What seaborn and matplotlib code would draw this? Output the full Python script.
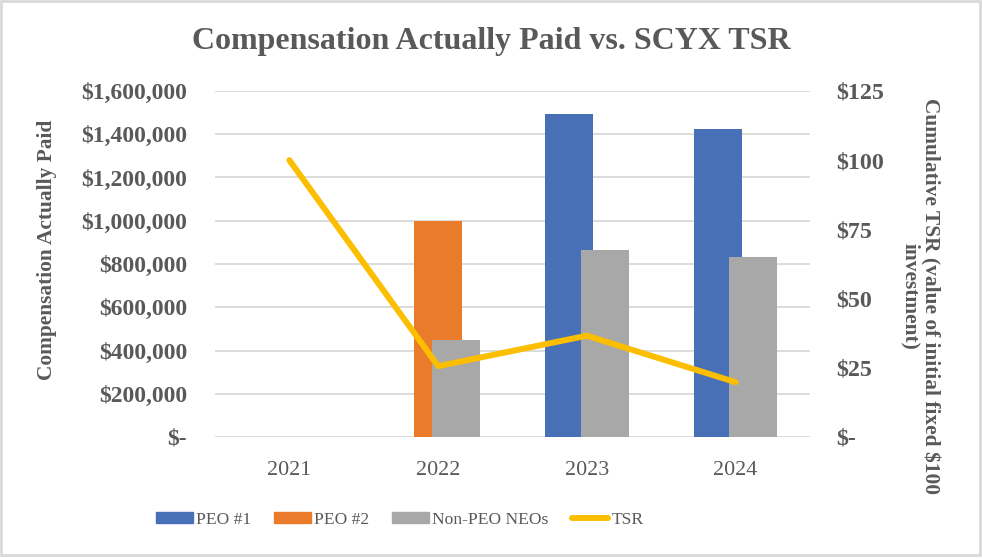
import numpy as np
import pandas as pd
import matplotlib
matplotlib.use("Agg")
import matplotlib.pyplot as plt
from matplotlib.patches import Patch, Rectangle
from matplotlib.lines import Line2D
from matplotlib.ticker import FuncFormatter
import seaborn as sns

# -------------------------------
# Data
# -------------------------------
years = ["2021", "2022", "2023", "2024"]
peo1 = [np.nan, np.nan, 1495000, 1425000]
peo2 = [np.nan, 1000000, np.nan, np.nan]
non_peo = [np.nan, 450000, 865000, 832000]
tsr = [100, 25.6, 36.6, 19.8]

series_names = ["PEO #1", "PEO #2", "Non-PEO NEOs"]

# -------------------------------
# Style
# -------------------------------
sns.set_theme(style="white")
plt.rcParams["font.family"] = ["Liberation Serif", "DejaVu Serif"]

TEXT = "#595959"
GRID = "#D9D9D9"
colors = {"PEO #1": "#4770B6", "PEO #2": "#E97B2B", "Non-PEO NEOs": "#A9A8A9"}
TSR_COLOR = "#FBBE00"

# bar offsets inside each year slot (Excel overlap layout)
offsets = {"PEO #1": -0.12, "PEO #2": 0.0, "Non-PEO NEOs": 0.12}
BAR_W = 0.323

df = pd.DataFrame({"year": years, "PEO #1": peo1, "PEO #2": peo2,
                   "Non-PEO NEOs": non_peo, "TSR": tsr})
df["idx"] = np.arange(len(df))

fig = plt.figure(figsize=(9.82, 5.58), dpi=100)
ax = fig.add_axes([215 / 982, 1 - 437 / 558, 595 / 982, 346 / 558])

# draw order: orange, blue, then gray on top
for name in ["PEO #2", "PEO #1", "Non-PEO NEOs"]:
    sub = df[["idx", name]].dropna()
    sns.barplot(x=sub["idx"] + offsets[name], y=sub[name], ax=ax,
                native_scale=True, color=colors[name], saturation=1,
                width=BAR_W, errorbar=None, linewidth=0, edgecolor="none")

ax.set_xlim(-0.5, 3.5)
ax.set_ylim(0, 1600000)
ax.set_yticks(np.arange(0, 1600001, 200000))
ax.yaxis.set_major_formatter(FuncFormatter(lambda v, p: "$-" if v == 0 else f"${v:,.0f}"))
ax.set_xticks(df["idx"])
ax.set_xticklabels(years)
ax.set_xlabel("")
ax.set_ylabel("")
ax.set_axisbelow(True)
ax.yaxis.grid(True, color=GRID, lw=1.3)
ax.xaxis.grid(False)
for s in ax.spines.values():
    s.set_visible(False)
ax.tick_params(axis="y", length=0, pad=20, labelsize=17, labelcolor=TEXT)
ax.tick_params(axis="x", length=0, pad=17, labelsize=15.8, labelcolor=TEXT)
for t in ax.get_yticklabels():
    t.set_fontweight("bold")

# TSR line on secondary axis
ax2 = ax.twinx()
sns.lineplot(x=df["idx"], y=df["TSR"], ax=ax2, color=TSR_COLOR, lw=4.3,
             solid_capstyle="round")
ax2.set_ylim(0, 125)
ax2.set_yticks(np.arange(0, 126, 25))
ax2.yaxis.set_major_formatter(FuncFormatter(lambda v, p: "$-" if v == 0 else f"${v:.0f}"))
ax2.set_xlim(-0.5, 3.5)
ax2.set_ylabel("")
ax2.set_xlabel("")
ax2.grid(False)
for s in ax2.spines.values():
    s.set_visible(False)
ax2.tick_params(axis="y", length=0, pad=19, labelsize=17.3, labelcolor=TEXT)
for t in ax2.get_yticklabels():
    t.set_fontweight("bold")

# -------------------------------
# Titles and labels
# -------------------------------
fig.text(0.5, 1 - 41 / 558, "Compensation Actually Paid vs. SCYX TSR",
         ha="center", va="center", fontsize=23, fontweight="bold", color=TEXT)
fig.text(47 / 982, 1 - 250 / 558, "Compensation Actually Paid", rotation=90,
         ha="center", va="center", fontsize=15.4, fontweight="bold", color=TEXT)
fig.text(920 / 982, 1 - 296 / 558,
         "Cumulative TSR (value of initial fixed $100\ninvestment)",
         rotation=270, ha="center", va="center", multialignment="center",
         fontsize=15.4, fontweight="bold", color=TEXT, linespacing=1.0)

# -------------------------------
# Legend
# -------------------------------
handles = [Patch(color=colors[n]) for n in series_names]
handles.append(Line2D([0], [0], color=TSR_COLOR, lw=4.3, solid_capstyle="round"))
labels = series_names + ["TSR"]
leg = fig.legend(handles, labels, loc="center left", bbox_to_anchor=(156 / 982, 1 - 520 / 558),
                 ncol=4, frameon=False, fontsize=12.6, handlelength=2.1,
                 handleheight=0.6, handletextpad=0.2, columnspacing=1.3,
                 borderpad=0, borderaxespad=0)
for t in leg.get_texts():
    t.set_color(TEXT)

# chart border
fig.patches.append(Rectangle((0.001, 0.005), 0.997, 0.993, transform=fig.transFigure,
                             fill=False, edgecolor=GRID, lw=2))

fig.savefig("out.png", dpi=100)
